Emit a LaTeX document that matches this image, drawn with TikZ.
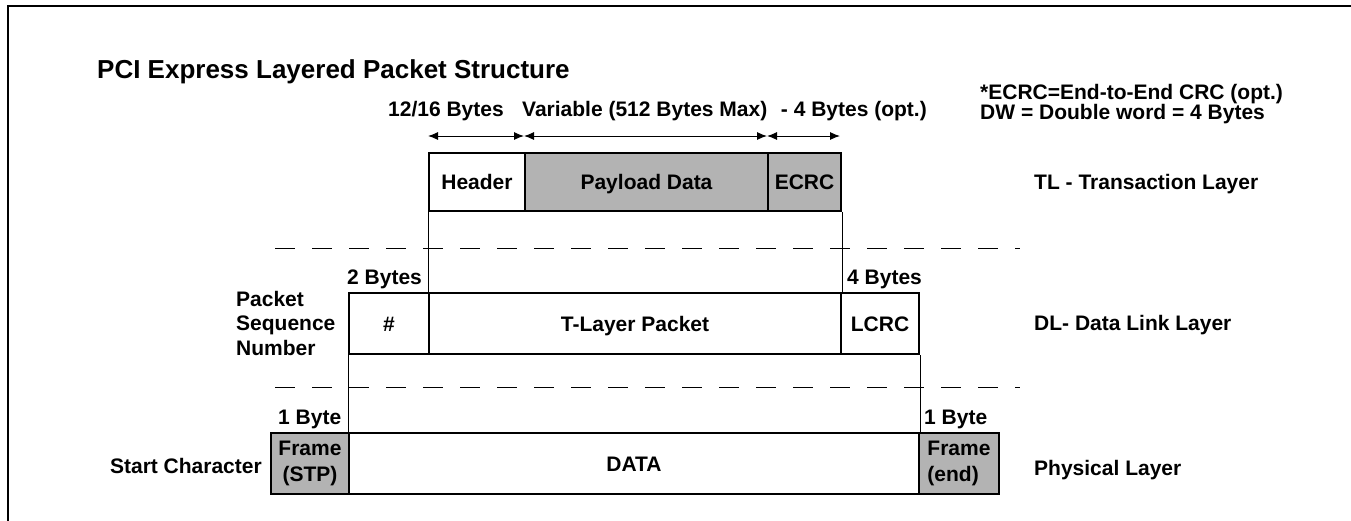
\documentclass[tikz,border=0pt]{standalone}
\usepackage{fontspec}
\setmainfont{Liberation Sans}
\usetikzlibrary{arrows.meta}
\definecolor{boxgray}{RGB}{179,179,179}
\begin{document}
\begin{tikzpicture}[x=1pt,y=-1pt,
  lbl/.style={font=\fontsize{21}{25}\selectfont\bfseries, inner sep=0pt},
  box/.style={draw, line width=2pt, inner sep=0pt, anchor=north west, align=center,
              font=\fontsize{21}{26}\selectfont\bfseries},
  one/.style={text height=15pt, text depth=0pt},
  graybox/.style={box, fill=boxgray},
  conn/.style={line width=1pt},
  dim/.style={line width=1pt, {Latex[length=10pt,width=8pt]}-{Latex[length=10pt,width=8pt]}},
  sep/.style={line width=1pt, dash pattern=on 20pt off 17pt}]
\useasboundingbox (0,0) rectangle (1351,520);
% frame
\coordinate (fbl) at (8,522);
\coordinate (ftl) at (8,6);
\coordinate (ftr) at (1353,6);
\draw[line width=2pt] (fbl) -- (ftl) -- (ftr);
% title and notes
\node[font=\fontsize{26}{30}\selectfont\bfseries, inner sep=0pt, anchor=base west] (title) at (97,78) {PCI Express Layered Packet Structure};
\node[lbl, anchor=base west] (note1) at (980,99) {*ECRC=End-to-End CRC (opt.)};
\node[lbl, anchor=base west] (note2) at (980,119) {DW = Double word = 4 Bytes};
% size labels
\node[lbl, anchor=base west] (s1) at (388,116) {12/16 Bytes};
\node[lbl, anchor=base west] (s2) at (522,116) {Variable (512 Bytes Max)};
\node[lbl, anchor=base east] (s3) at (927,116) {- 4 Bytes (opt.)};
% TL boxes
\node[box, one, minimum width=96pt, minimum height=58pt] (hdr) at (428,152) {Header};
\node[graybox, one, minimum width=243pt, minimum height=58pt] (pay) at (524,152) {Payload Data};
\node[graybox, one, minimum width=73pt, minimum height=58pt] (ecrc) at (767,152) {ECRC};
% dimension arrows
\coordinate (a0) at (428,136);
\coordinate (a1) at (524,136);
\coordinate (a2) at (767,136);
\coordinate (a3) at (840,136);
\draw[dim] (a0) -- (a1);
\draw[dim] (a1) -- (a2);
\draw[dim] (a2) -- (a3);
% DL boxes
\node[box, one, minimum width=80pt, minimum height=61pt] (seq) at (348,292) {\#};
\node[box, one, minimum width=412pt, minimum height=61pt] (tlp) at (428,292) {T-Layer Packet};
\node[box, one, minimum width=78pt, minimum height=61pt] (lcrc) at (840,292) {LCRC};
% PL boxes
\node[graybox, minimum width=78pt, minimum height=61pt] (stp) at (270,432) {Frame\\(STP)};
\node[box, one, minimum width=570pt, minimum height=61pt] (data) at (348,432) {DATA};
\node[graybox, minimum width=80pt, minimum height=61pt, align=left] (fend) at (918,432) {Frame\\(end)};
% connectors between layers
\draw[conn] (hdr.south west) -- (tlp.north west);
\draw[conn] (ecrc.south east) -- (tlp.north east);
\draw[conn] (seq.south west) -- (data.north west);
\draw[conn] (lcrc.south east) -- (data.north east);
% separators
\coordinate (d1l) at (275,248);
\coordinate (d1r) at (1020,248);
\coordinate (d2l) at (275,387);
\coordinate (d2r) at (1020,387);
\draw[sep] (d1l) -- (d1r);
\draw[sep] (d2l) -- (d2r);
% byte labels
\node[lbl, anchor=base west] (b2) at (347,284) {2 Bytes};
\node[lbl, anchor=base west] (b4) at (847,284) {4 Bytes};
\node[lbl, anchor=base west] (b1l) at (278,424) {1 Byte};
\node[lbl, anchor=base west] (b1r) at (924,424) {1 Byte};
% side labels
\node[lbl, anchor=west, align=left, font=\fontsize{21}{24.5}\selectfont\bfseries] (psn) at (236,323) {Packet\\Sequence\\Number};
\node[lbl, anchor=east] (start) at (262,466) {Start Character};
\node[lbl, anchor=base west] (tl) at (1034,189) {TL - Transaction Layer};
\node[lbl, anchor=base west] (dl) at (1034,330) {DL- Data Link Layer};
\node[lbl, anchor=base west] (pl) at (1034,475) {Physical Layer};
\end{tikzpicture}
\end{document}
